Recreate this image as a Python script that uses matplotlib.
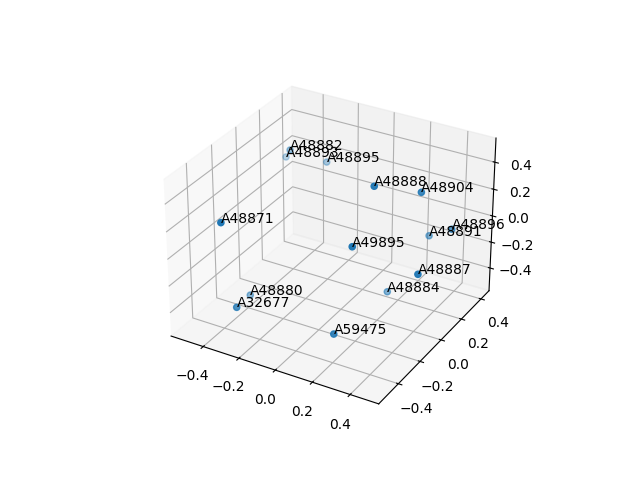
"""
3D scatter of sample ids
"""

import matplotlib
matplotlib.use('Agg')
import matplotlib.pyplot as plt

labels = ['A48882', 'A48893', 'A48895', 'A48888', 'A48904', 'A48871', 'A49895',
          'A48896', 'A48891', 'A48887', 'A48884', 'A48880', 'A32677', 'A59475']
x_vals = [-0.428, -0.526, -0.3, 0.248, 0.395, -0.294, 0.251,
          0.494, 0.325, 0.522, 0.218, -0.376, -0.252, 0.222]
y_vals = [0.227, 0.34, 0.355, -0.122, 0.053, -0.551, -0.316,
          0.175, 0.268, -0.192, 0.064, -0.215, -0.507, -0.426]
z_vals = [0.312, 0.15, 0.182, 0.526, 0.417, 0.363, 0.234,
          0.1, -0.082, 0.052, -0.4, -0.458, -0.271, -0.331]

tick_vals = [-0.4, -0.2, 0.0, 0.2, 0.4]
x_lim = (-0.583, 0.549)
y_lim = (-0.575, 0.484)
z_lim = (-0.578, 0.576)

fig = plt.figure()
ax = fig.add_subplot(projection='3d')
ax.scatter(x_vals, y_vals, z_vals)
for x, y, z, name in zip(x_vals, y_vals, z_vals, labels):
    ax.text(x, y, z, name)

ax.set_xticks(tick_vals)
ax.set_yticks(tick_vals)
ax.set_zticks(tick_vals)
ax.set_xlim(*x_lim, view_margin=0)
ax.set_ylim(*y_lim, view_margin=0)
ax.set_zlim(*z_lim, view_margin=0)

plt.savefig('out.png', dpi=100)
